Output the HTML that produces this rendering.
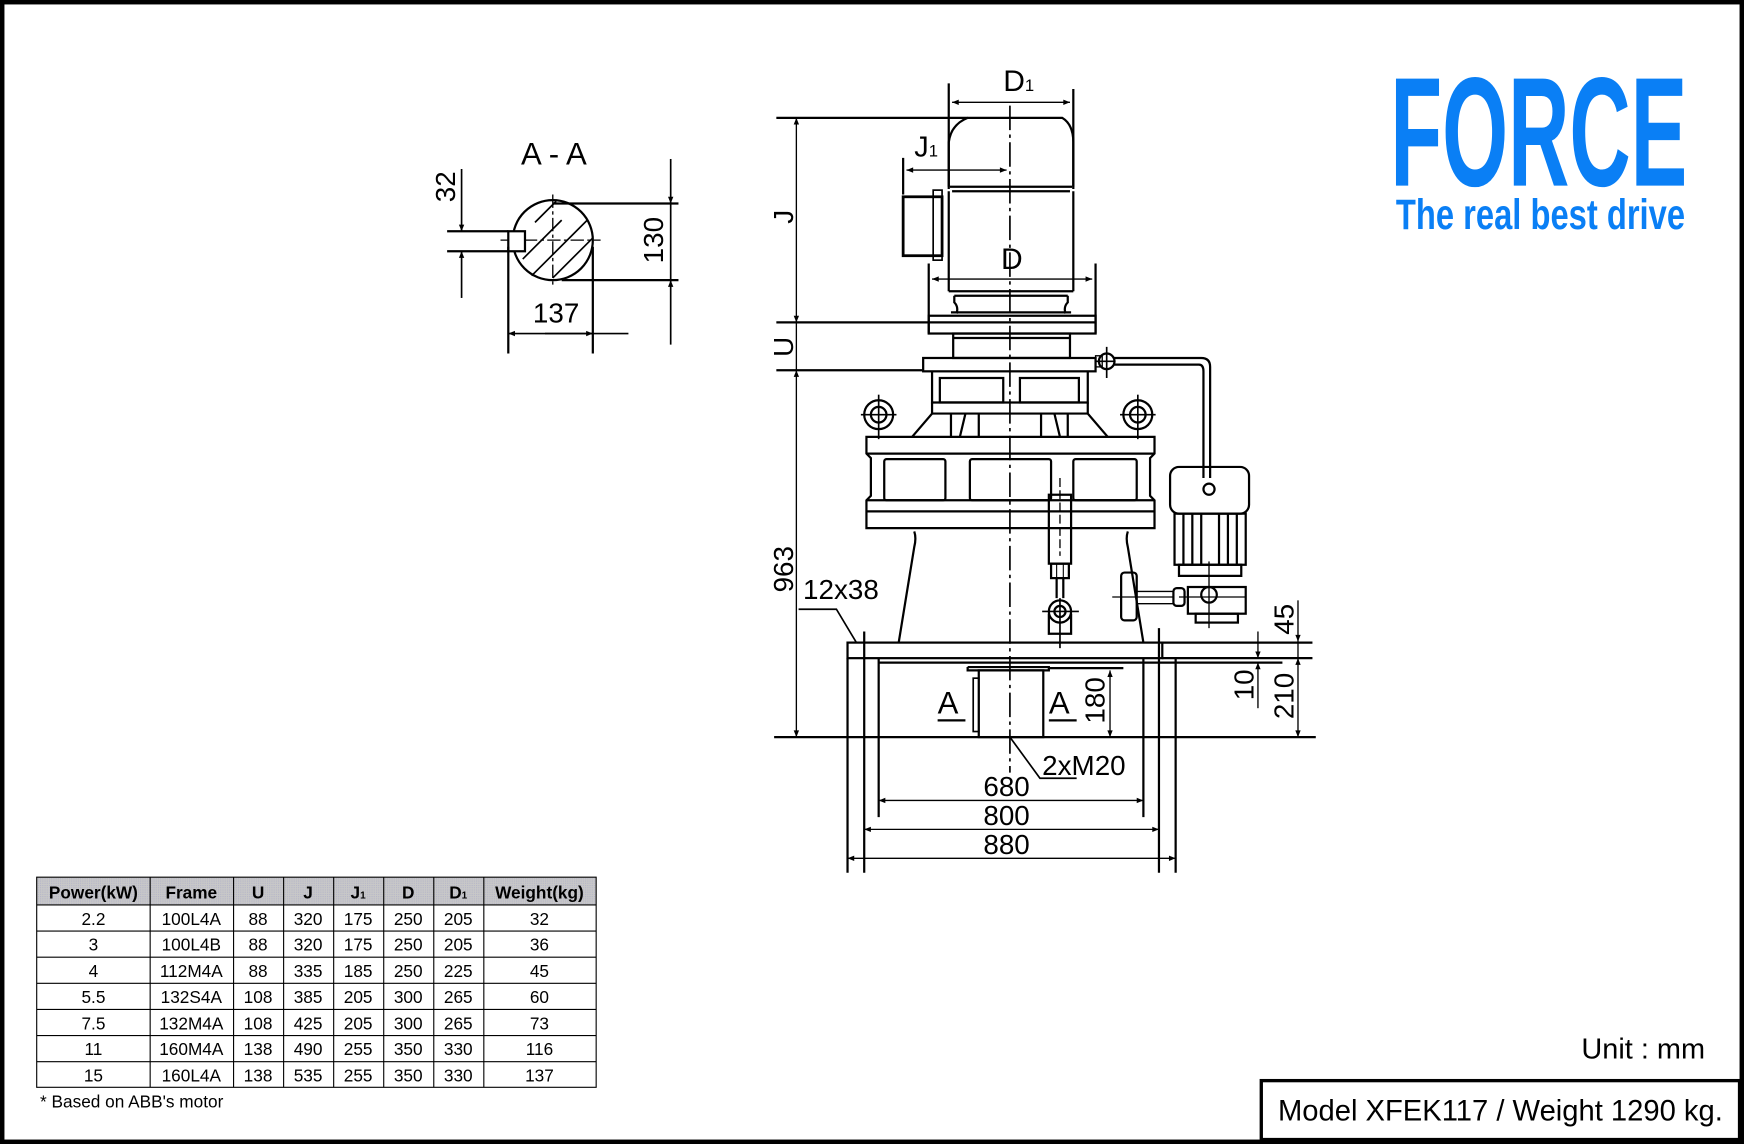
<!DOCTYPE html>
<html><head><meta charset="utf-8"><style>
html,body{margin:0;padding:0;background:#fff;}
svg{display:block;}
text{font-family:"Liberation Sans",sans-serif;fill:#000;}
</style></head><body>
<svg width="1744" height="1144" viewBox="0 0 1568 1029" preserveAspectRatio="none" xmlns="http://www.w3.org/2000/svg">
<defs>
<marker id="ar" viewBox="0 0 10 10" refX="10" refY="5" markerWidth="10" markerHeight="6" orient="auto-start-reverse" markerUnits="userSpaceOnUse"><path d="M0,1 L10,5 L0,9 z" fill="#000"/></marker>
<pattern id="dith" width="2" height="2" patternUnits="userSpaceOnUse"><rect width="2" height="2" fill="#c8c8c8"/><rect width="1" height="1" fill="#b4b4c8"/></pattern>
</defs>
<rect x="0" y="0" width="1568" height="1029" fill="#fff"/>
<rect x="2" y="2" width="1564" height="1025" fill="none" stroke="#000" stroke-width="4"/>

<!-- Logo -->
<text x="1250" y="167" font-size="140" font-weight="bold" fill="#0a7ff5" style="fill:#0a7ff5" textLength="267" lengthAdjust="spacingAndGlyphs">FORCE</text>
<text x="1255" y="206" font-size="38" font-weight="bold" style="fill:#0a7ff5" textLength="260" lengthAdjust="spacingAndGlyphs">The real best drive</text>

<g stroke="#000" stroke-width="2" fill="none">
<!-- centerline -->
<line x1="908" y1="95" x2="908" y2="695" stroke-width="1.5" stroke-dasharray="22,4,3,4"/>

<!-- Motor -->
<path d="M853,168 L853,128 Q855,112 870,106 L955,106 Q965,112 965,128 L965,168"/>
<line x1="853" y1="75" x2="853" y2="170"/>
<line x1="965" y1="80" x2="965" y2="170"/>
<line x1="856" y1="92" x2="962" y2="92" stroke-width="1.2" marker-start="url(#ar)" marker-end="url(#ar)"/>
<line x1="854" y1="168" x2="964" y2="168"/>
<line x1="856" y1="172" x2="962" y2="172"/>
<line x1="853" y1="172" x2="853" y2="262"/>
<line x1="965" y1="172" x2="965" y2="262"/>
<line x1="812" y1="142" x2="812" y2="175"/>
<line x1="815" y1="153" x2="905" y2="153" stroke-width="1.2" marker-start="url(#ar)" marker-end="url(#ar)"/>
<rect x="812" y="177" width="35" height="53" stroke-width="2.5"/>
<rect x="839" y="171" width="8" height="63" stroke-width="1.5"/>
<line x1="835" y1="237" x2="835" y2="300"/>
<line x1="985" y1="237" x2="985" y2="300"/>
<line x1="838" y1="251" x2="982" y2="251" stroke-width="1.2" marker-start="url(#ar)" marker-end="url(#ar)"/>
<line x1="853" y1="262" x2="965" y2="262"/>
<line x1="858" y1="266" x2="960" y2="266"/>
<path d="M858,266 L858,272 Q862,276 860,282 M960,266 L960,272 Q956,276 958,282"/>
<line x1="855" y1="281" x2="963" y2="281"/>
<rect x="835" y="284" width="150" height="16"/>
<line x1="698" y1="290" x2="985" y2="290"/>
<line x1="698" y1="106" x2="870" y2="106"/>
<rect x="857" y="300" width="105" height="22"/>
<line x1="857" y1="304" x2="962" y2="304"/>
<rect x="830" y="322" width="155" height="12"/>
<line x1="698" y1="333" x2="830" y2="333"/>
<path d="M838,334 L838,362 L978,362 L978,334"/>
<rect x="845" y="340" width="57" height="22"/>
<rect x="917" y="340" width="53" height="22"/>
<line x1="838" y1="372" x2="978" y2="372"/>
<path d="M838,362 L838,372 L820,393 M978,362 L978,372 L996,393"/>
<path d="M855,372 L855,393 M868,372 L863,393 M880,372 L880,393 M936,372 L936,393 M948,372 L953,393 M960,372 L960,393"/>
<!-- lifting eyes -->
<circle cx="790" cy="373" r="13"/><circle cx="790" cy="373" r="7"/>
<line x1="774" y1="373" x2="806" y2="373" stroke-width="1.5"/><line x1="790" y1="355" x2="790" y2="395" stroke-width="1.5"/>
<circle cx="1023" cy="373" r="13"/><circle cx="1023" cy="373" r="7"/>
<line x1="1007" y1="373" x2="1039" y2="373" stroke-width="1.5"/><line x1="1023" y1="355" x2="1023" y2="395" stroke-width="1.5"/>
<!-- housing -->
<path d="M779,393 L1038,393 L1038,408 L1034,412 L1034,446 L1038,450 L1038,475 L779,475 L779,450 L783,446 L783,412 L779,408 Z"/>
<line x1="779" y1="408" x2="1038" y2="408"/>
<line x1="779" y1="450" x2="1038" y2="450"/>
<line x1="779" y1="460" x2="1038" y2="460"/>
<rect x="795" y="413" width="55" height="37" rx="2"/>
<rect x="872" y="413" width="73" height="37" rx="2"/>
<rect x="965" y="413" width="57" height="37" rx="2"/>
<!-- cone -->
<path d="M822,478 Q824,484 822,492 L808,578"/>
<path d="M1014,478 Q1012,484 1014,492 L1028,578"/>
<!-- gauge rod -->
<rect x="943" y="445" width="20" height="62"/>
<line x1="953" y1="430" x2="953" y2="500" stroke-width="1.2" stroke-dasharray="8,3"/>
<rect x="945" y="507" width="16" height="13"/>
<line x1="950" y1="507" x2="950" y2="520" stroke-width="1"/><line x1="956" y1="507" x2="956" y2="520" stroke-width="1"/>
<line x1="950" y1="520" x2="950" y2="538"/><line x1="956" y1="520" x2="956" y2="538"/>
<path d="M943,552 L943,570 L963,570 L963,552"/>
<circle cx="953" cy="550" r="10"/><circle cx="953" cy="550" r="5"/>
<line x1="937" y1="550" x2="970" y2="550" stroke-width="1.5"/><line x1="953" y1="538" x2="953" y2="583" stroke-width="1.5"/>
<!-- pipe and small motor -->
<circle cx="995" cy="325" r="7"/>
<line x1="995" y1="312" x2="995" y2="340" stroke-width="1.5"/><line x1="985" y1="325" x2="1003" y2="325" stroke-width="1.5"/>
<rect x="985" y="320" width="6" height="10" stroke-width="1.2"/>
<path d="M1002,322 L1080,322 Q1088,322 1088,330 L1088,430"/>
<path d="M1002,328 L1078,328 Q1082,328 1082,334 L1082,430"/>
<circle cx="1087" cy="440" r="5"/>
<rect x="1052" y="420" width="71" height="42" rx="8"/>
<rect x="1056" y="462" width="64" height="46"/>
<path d="M1064,462 L1064,508 M1072,462 L1072,508 M1080,462 L1080,508 M1096,462 L1096,508 M1104,462 L1104,508 M1112,462 L1112,508"/>
<path d="M1060,508 L1116,508 L1116,518 L1060,518 Z"/>
<rect x="1068" y="528" width="52" height="24"/>
<rect x="1075" y="552" width="38" height="8"/>
<circle cx="1087" cy="535" r="7"/>
<line x1="1087" y1="505" x2="1087" y2="565" stroke-width="1.2"/>
<line x1="1060" y1="537" x2="1120" y2="537" stroke-width="1.2"/>
<rect x="1055" y="529" width="10" height="16" rx="3"/>
<line x1="1000" y1="537" x2="1055" y2="537" stroke-width="1.2"/>
<line x1="1022" y1="532" x2="1055" y2="532" stroke-width="1.2"/><line x1="1022" y1="543" x2="1055" y2="543" stroke-width="1.2"/>
<rect x="1008" y="515" width="14" height="43" rx="3"/>
<!-- base -->
<rect x="762" y="578" width="283" height="14"/>
<line x1="1045" y1="578" x2="1180" y2="578"/>
<line x1="1045" y1="592" x2="1180" y2="592"/>
<line x1="1028" y1="596" x2="1153" y2="596"/>
<line x1="762" y1="592" x2="762" y2="785"/>
<line x1="777" y1="568" x2="777" y2="785"/>
<line x1="790" y1="592" x2="790" y2="735"/>
<line x1="1028" y1="592" x2="1028" y2="735"/>
<line x1="1042" y1="565" x2="1042" y2="785"/>
<line x1="1057" y1="592" x2="1057" y2="785"/>
<line x1="790" y1="596" x2="1028" y2="596"/>
<path d="M870,600 L870,603 L943,603 L943,600 L870,600"/>
<line x1="943" y1="601" x2="1010" y2="601"/>
<rect x="880" y="603" width="58" height="60"/>
<rect x="875" y="610" width="5" height="48" stroke-width="1.5"/>
<line x1="696" y1="663" x2="1183" y2="663"/>
<!-- A labels underline -->
<line x1="843" y1="648" x2="868" y2="648"/>
<line x1="943" y1="648" x2="968" y2="648"/>
<!-- 180 -->
<line x1="998" y1="603" x2="998" y2="663" stroke-width="1.2" marker-start="url(#ar)" marker-end="url(#ar)"/>
<!-- right dims -->
<line x1="1167" y1="540" x2="1167" y2="577" stroke-width="1.2" marker-end="url(#ar)"/>
<line x1="1167" y1="577" x2="1167" y2="592" stroke-width="1.2"/>
<line x1="1167" y1="592" x2="1167" y2="663" stroke-width="1.2" marker-start="url(#ar)" marker-end="url(#ar)"/>
<line x1="1131" y1="568" x2="1131" y2="592" stroke-width="1.2" marker-end="url(#ar)"/>
<line x1="1131" y1="596" x2="1131" y2="637" stroke-width="1.2" marker-start="url(#ar)"/>
<!-- left dims -->
<line x1="716" y1="106" x2="716" y2="290" stroke-width="1.2" marker-start="url(#ar)" marker-end="url(#ar)"/>
<line x1="716" y1="290" x2="716" y2="333" stroke-width="1.2"/>
<line x1="716" y1="333" x2="716" y2="663" stroke-width="1.2" marker-start="url(#ar)" marker-end="url(#ar)"/>
<polyline points="718,548 752,548 770,578" stroke-width="1.5"/>
<polyline points="908,663 935,700 968,700" stroke-width="1.5"/>
<line x1="790" y1="720" x2="1028" y2="720" stroke-width="1.2" marker-start="url(#ar)" marker-end="url(#ar)"/>
<line x1="777" y1="746" x2="1042" y2="746" stroke-width="1.2" marker-start="url(#ar)" marker-end="url(#ar)"/>
<line x1="762" y1="772" x2="1057" y2="772" stroke-width="1.2" marker-start="url(#ar)" marker-end="url(#ar)"/>

<!-- A-A section -->
<circle cx="497" cy="216" r="36"/>
<line x1="497" y1="175" x2="497" y2="258" stroke-width="1.2" stroke-dasharray="12,3,3,3"/>
<line x1="450" y1="216" x2="540" y2="216" stroke-width="1.2" stroke-dasharray="12,3,3,3"/>
<line x1="470" y1="233" x2="505" y2="198" stroke-width="1.5"/>
<line x1="478" y1="248" x2="528" y2="198" stroke-width="1.5"/>
<line x1="497" y1="250" x2="533" y2="214" stroke-width="1.5"/>
<line x1="481" y1="200" x2="500" y2="181" stroke-width="1.5"/>
<rect x="457" y="208" width="15" height="18" fill="#fff"/>
<line x1="402" y1="208" x2="457" y2="208"/>
<line x1="402" y1="226" x2="457" y2="226"/>
<line x1="415" y1="152" x2="415" y2="208" stroke-width="1.5" marker-end="url(#ar)"/>
<line x1="415" y1="226" x2="415" y2="268" stroke-width="1.5" marker-start="url(#ar)"/>
<line x1="497" y1="183" x2="610" y2="183"/>
<line x1="505" y1="252" x2="610" y2="252"/>
<line x1="603" y1="143" x2="603" y2="183" stroke-width="1.5" marker-end="url(#ar)"/>
<line x1="603" y1="183" x2="603" y2="252" stroke-width="1.5"/>
<line x1="603" y1="252" x2="603" y2="310" stroke-width="1.5" marker-start="url(#ar)"/>
<line x1="457" y1="222" x2="457" y2="318"/>
<line x1="533" y1="222" x2="533" y2="318"/>
<line x1="457" y1="300" x2="565" y2="300" stroke-width="1.5" marker-start="url(#ar)"/>
<line x1="490" y1="300" x2="533" y2="300" stroke-width="1.5" marker-end="url(#ar)"/>

<!-- Model box -->
<rect x="1134" y="972" width="430" height="53" stroke-width="3"/>
</g>

<!-- texts -->
<g font-size="25">
<text x="902" y="82" font-size="27">D<tspan font-size="15">1</tspan></text>
<text x="822" y="141" font-size="26">J<tspan font-size="15">1</tspan></text>
<text x="900" y="242" font-size="27">D</text>
<text x="498" y="148" font-size="28" text-anchor="middle">A - A</text>
<text x="500" y="290" text-anchor="middle">137</text>
<text transform="translate(409,168) rotate(-90)" text-anchor="middle">32</text>
<text transform="translate(596,216) rotate(-90)" text-anchor="middle">130</text>
<text transform="translate(713,195) rotate(-90)" text-anchor="middle">J</text>
<text transform="translate(713,312) rotate(-90)" text-anchor="middle">U</text>
<text transform="translate(713,512) rotate(-90)" text-anchor="middle">963</text>
<text x="722" y="539">12x38</text>
<text x="843" y="642" font-size="28">A</text>
<text x="943" y="642" font-size="28">A</text>
<text transform="translate(993,630) rotate(-90)" text-anchor="middle">180</text>
<text transform="translate(1163,557) rotate(-90)" text-anchor="middle">45</text>
<text transform="translate(1127,616) rotate(-90)" text-anchor="middle">10</text>
<text transform="translate(1163,626) rotate(-90)" text-anchor="middle">210</text>
<text x="937" y="697">2xM20</text>
<text x="905" y="716" text-anchor="middle">680</text>
<text x="905" y="742" text-anchor="middle">800</text>
<text x="905" y="768" text-anchor="middle">880</text>
<text x="1533" y="952" font-size="26" text-anchor="end">Unit : mm</text>
<text x="1149" y="1008" font-size="27" textLength="400" lengthAdjust="spacingAndGlyphs">Model XFEK117 / Weight 1290 kg.</text>
</g>

<!-- table -->
<g>
<rect x="33" y="789" width="503" height="25" fill="url(#dith)"/>
<g stroke="#000" stroke-width="1" fill="none">
<rect x="33" y="789" width="503" height="189"/>
<line x1="33" y1="814" x2="536" y2="814"/>
<line x1="33" y1="837.5" x2="536" y2="837.5"/>
<line x1="33" y1="861" x2="536" y2="861"/>
<line x1="33" y1="884.5" x2="536" y2="884.5"/>
<line x1="33" y1="908" x2="536" y2="908"/>
<line x1="33" y1="931.5" x2="536" y2="931.5"/>
<line x1="33" y1="955" x2="536" y2="955"/>
<line x1="135" y1="789" x2="135" y2="978"/>
<line x1="210" y1="789" x2="210" y2="978"/>
<line x1="255" y1="789" x2="255" y2="978"/>
<line x1="300" y1="789" x2="300" y2="978"/>
<line x1="345" y1="789" x2="345" y2="978"/>
<line x1="390" y1="789" x2="390" y2="978"/>
<line x1="435" y1="789" x2="435" y2="978"/>
</g>
<g font-size="15.5" font-weight="bold" text-anchor="middle">
<text x="84" y="808">Power(kW)</text><text x="172" y="808">Frame</text><text x="232" y="808">U</text><text x="277" y="808">J</text><text x="322" y="808">J<tspan font-size="9">1</tspan></text><text x="367" y="808">D</text><text x="412" y="808">D<tspan font-size="9">1</tspan></text><text x="485" y="808">Weight(kg)</text>
</g>
<g font-size="15.5" text-anchor="middle">
<text x="84" y="832">2.2</text><text x="172" y="832">100L4A</text><text x="232" y="832">88</text><text x="277" y="832">320</text><text x="322" y="832">175</text><text x="367" y="832">250</text><text x="412" y="832">205</text><text x="485" y="832">32</text>
<text x="84" y="855">3</text><text x="172" y="855">100L4B</text><text x="232" y="855">88</text><text x="277" y="855">320</text><text x="322" y="855">175</text><text x="367" y="855">250</text><text x="412" y="855">205</text><text x="485" y="855">36</text>
<text x="84" y="879">4</text><text x="172" y="879">112M4A</text><text x="232" y="879">88</text><text x="277" y="879">335</text><text x="322" y="879">185</text><text x="367" y="879">250</text><text x="412" y="879">225</text><text x="485" y="879">45</text>
<text x="84" y="902">5.5</text><text x="172" y="902">132S4A</text><text x="232" y="902">108</text><text x="277" y="902">385</text><text x="322" y="902">205</text><text x="367" y="902">300</text><text x="412" y="902">265</text><text x="485" y="902">60</text>
<text x="84" y="926">7.5</text><text x="172" y="926">132M4A</text><text x="232" y="926">108</text><text x="277" y="926">425</text><text x="322" y="926">205</text><text x="367" y="926">300</text><text x="412" y="926">265</text><text x="485" y="926">73</text>
<text x="84" y="949">11</text><text x="172" y="949">160M4A</text><text x="232" y="949">138</text><text x="277" y="949">490</text><text x="322" y="949">255</text><text x="367" y="949">350</text><text x="412" y="949">330</text><text x="485" y="949">116</text>
<text x="84" y="973">15</text><text x="172" y="973">160L4A</text><text x="232" y="973">138</text><text x="277" y="973">535</text><text x="322" y="973">255</text><text x="367" y="973">350</text><text x="412" y="973">330</text><text x="485" y="973">137</text>
</g>
<text x="36" y="996" font-size="15.5">* Based on ABB's motor</text>
</g>
</svg>
</body></html>
